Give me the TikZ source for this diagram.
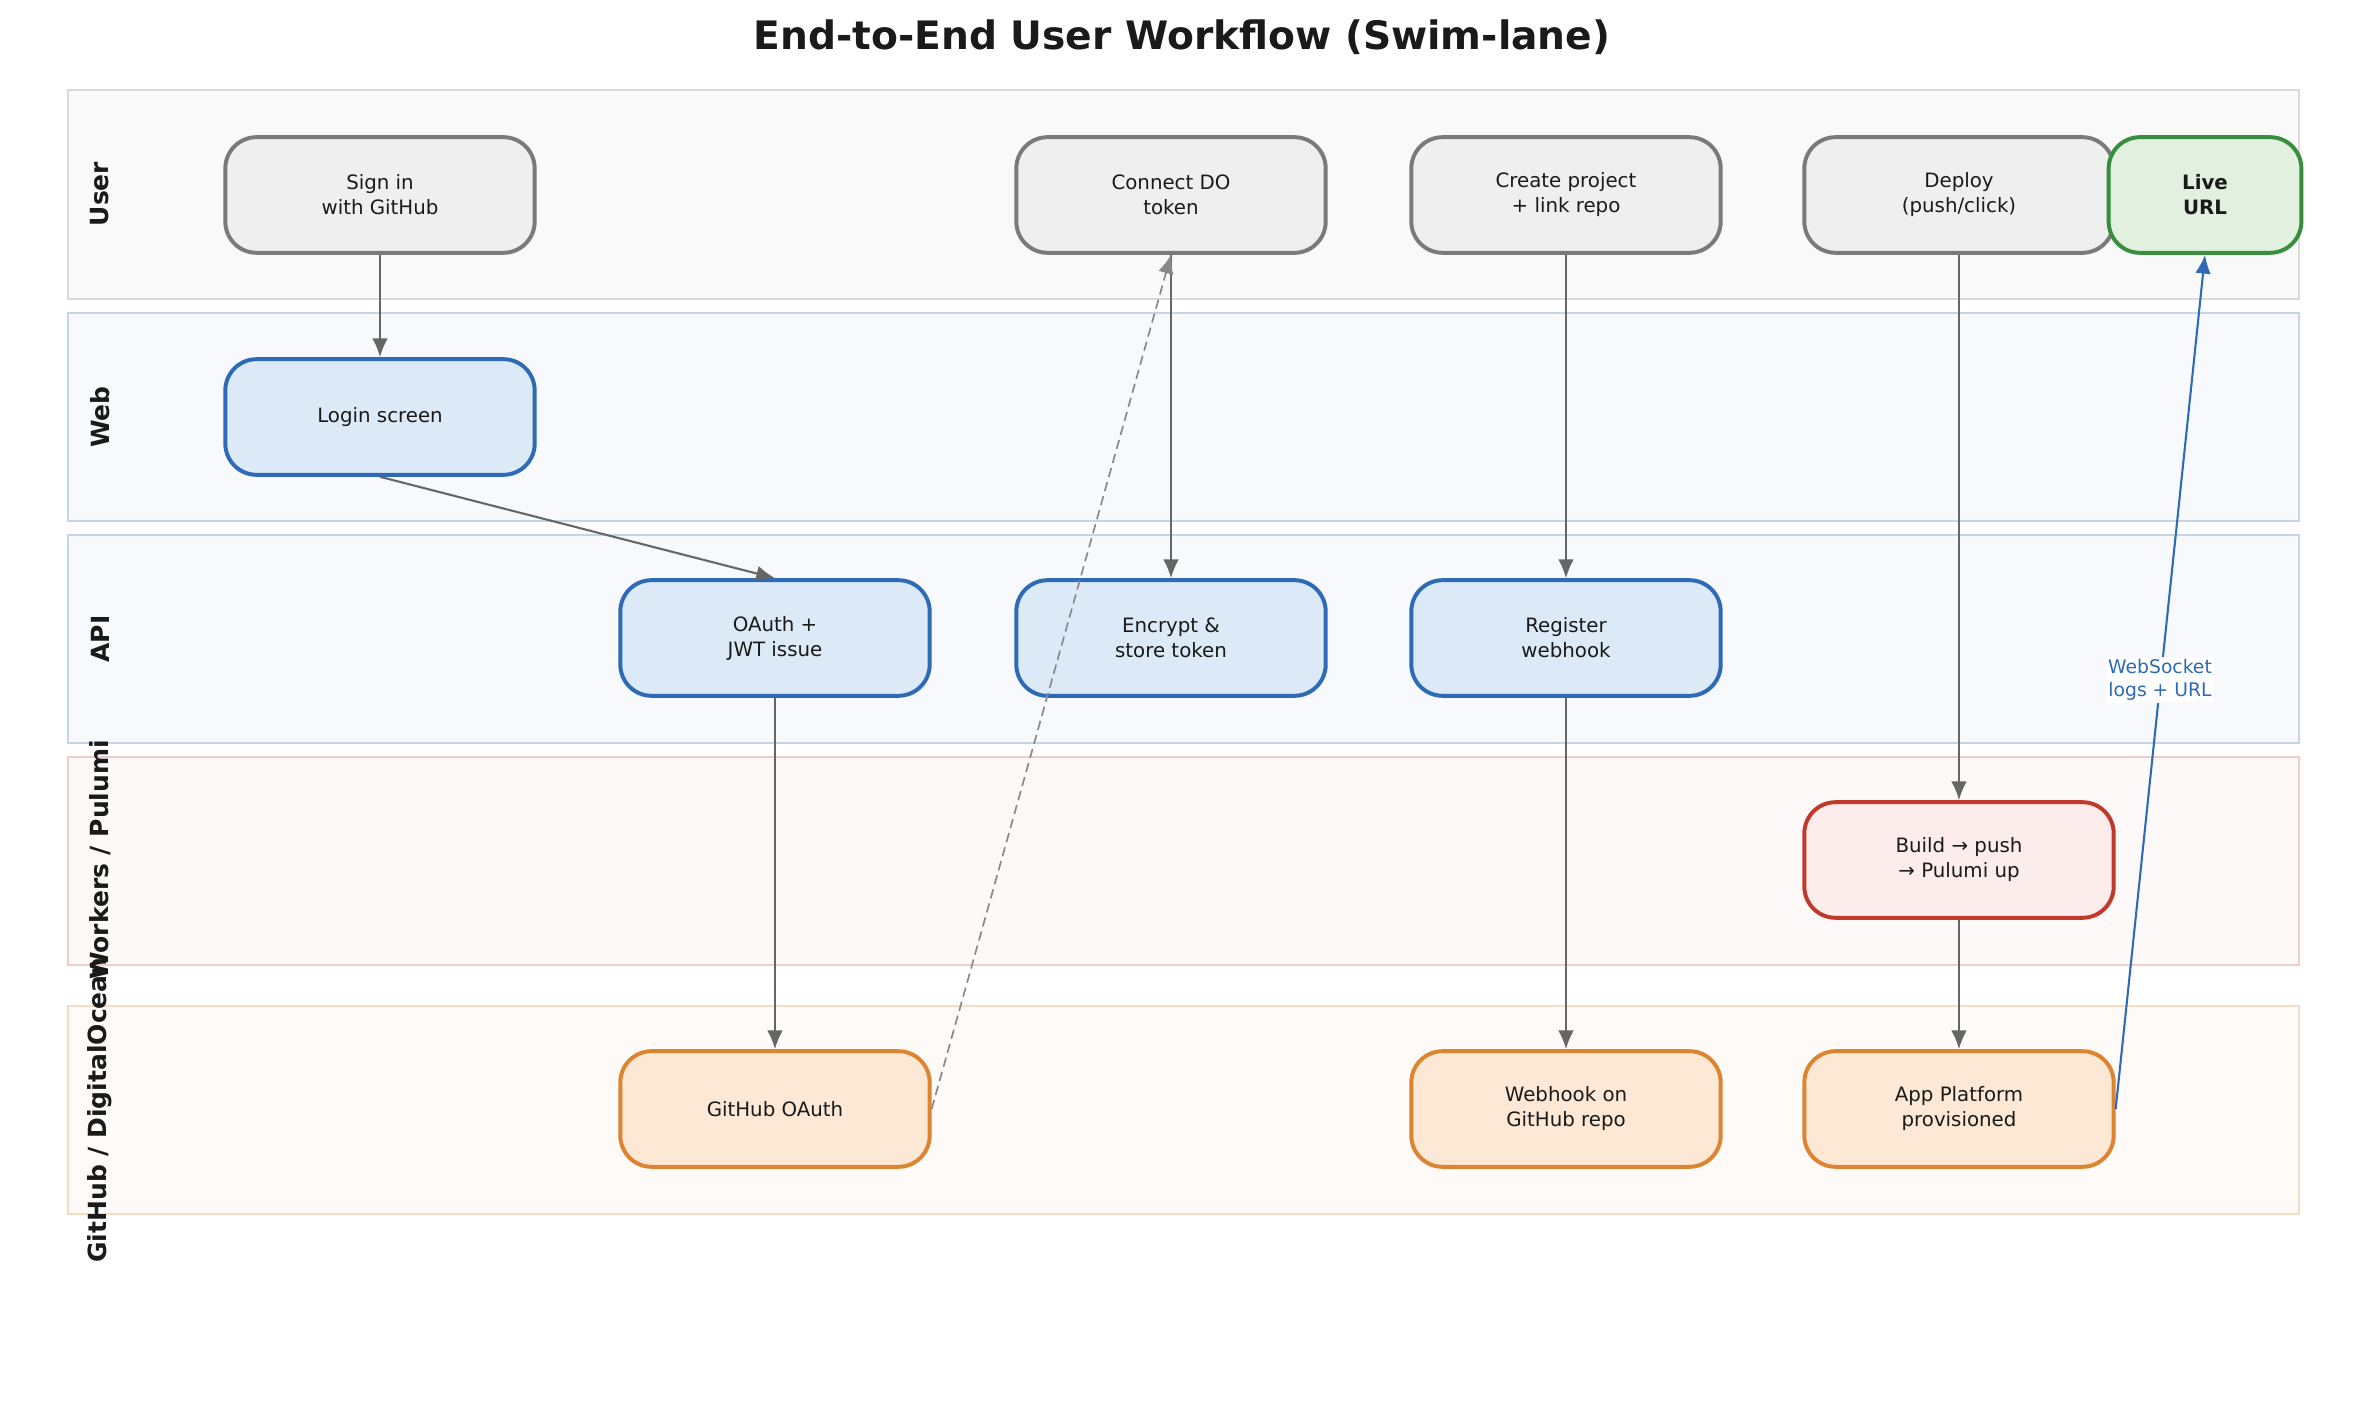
\documentclass[tikz,border=0pt]{standalone}
\usepackage{fontspec}
\setmainfont{DejaVu Sans}
\usetikzlibrary{arrows.meta,positioning}

\definecolor{inkdark}{HTML}{1A1A1A}
\definecolor{usrfill}{HTML}{EFEFEF}
\definecolor{usrline}{HTML}{7A7A7A}
\definecolor{webfill}{HTML}{DCE9F6}
\definecolor{webline}{HTML}{2E6AB5}
\definecolor{wrkfill}{HTML}{FDECEC}
\definecolor{wrkline}{HTML}{C0392B}
\definecolor{extfill}{HTML}{FDE8D6}
\definecolor{extline}{HTML}{DD8430}
\definecolor{livefill}{HTML}{E2F0E0}
\definecolor{liveline}{HTML}{388E3C}
\definecolor{flowgray}{HTML}{666666}
\definecolor{dashgray}{HTML}{888888}

\tikzset{
  lane/.style={line width=1.3pt},
  lanelabel/.style={rotate=90, font=\bfseries\fontsize{12}{14}\selectfont, text=inkdark},
  box/.style={rounded corners=15pt, line width=1.9pt, minimum width=148.5pt,
    minimum height=55.5pt, align=center, text=inkdark,
    font=\fontsize{9.5}{12}\selectfont},
  userbox/.style={box, draw=usrline, fill=usrfill},
  webbox/.style={box, draw=webline, fill=webfill},
  workbox/.style={box, draw=wrkline, fill=wrkfill},
  extbox/.style={box, draw=extline, fill=extfill},
  livebox/.style={box, draw=liveline, fill=livefill, minimum width=92.5pt,
    font=\bfseries\fontsize{9.5}{12}\selectfont},
  flow/.style={draw=flowgray, line width=1pt, -{Latex[length=9pt,width=7.5pt]}},
}

\begin{document}
\begin{tikzpicture}[x=0.48pt, y=-0.48pt]
    \useasboundingbox (0,0) rectangle (2365,1428);

    % Title
    \node[font=\bfseries\fontsize{18.8}{22}\selectfont, text=inkdark] (title) at (1182,37)
      {End-to-End User Workflow (Swim-lane)};

    % Swim lanes
    \draw[lane, draw=black!15, fill=black!2.5] (68,90) rectangle (2299,299);
    \node[lanelabel] (lnuser) at (100,194) {User};
    \draw[lane, draw=webline!28, fill=webline!4] (68,313) rectangle (2299,521);
    \node[lanelabel] (lnweb) at (100,417) {Web};
    \draw[lane, draw=webline!28, fill=webline!4] (68,535) rectangle (2299,743);
    \node[lanelabel] (lnapi) at (100,639) {API};
    \draw[lane, draw=wrkline!25, fill=wrkline!3] (68,757) rectangle (2299,965);
    \node[lanelabel] (lnwork) at (100,860) {Workers / Pulumi};
    \draw[lane, draw=extline!28, fill=extline!4] (68,1006) rectangle (2299,1214);
    \node[lanelabel] (lnext) at (100,1110) {GitHub / DigitalOcean};

    % User steps
    \node[userbox] (signin) at (380,195) {Sign in\\with GitHub};
    \node[userbox] (connect) at (1171,195) {Connect DO\\token};
    \node[userbox] (create) at (1566,195) {Create project\\+ link repo};
    \node[userbox] (deploy) at (1959,195) {Deploy\\(push/click)};
    \node[livebox] (live) at (2205,195) {Live\\URL};

    % Web and API
    \node[webbox] (login) at (380,417) {Login screen};
    \node[webbox] (oauth) at (775,638) {OAuth +\\JWT issue};
    \node[webbox] (encrypt) at (1171,638) {Encrypt \&\\store token};
    \node[webbox] (register) at (1566,638) {Register\\webhook};

    % Workers
    \node[workbox] (build) at (1959,860) {Build → push\\→ Pulumi up};

    % External services
    \node[extbox] (ghoauth) at (775,1109) {GitHub OAuth};
    \node[extbox] (webhook) at (1566,1109) {Webhook on\\GitHub repo};
    \node[extbox] (appplat) at (1959,1109) {App Platform\\provisioned};

    % Flows
    \draw[flow] (signin) -- (login);
    \draw[flow] (login.south) -- (oauth.north);
    \draw[flow] (oauth) -- (ghoauth);
    \draw[flow] (connect) -- (encrypt);
    \draw[flow] (create) -- (register);
    \draw[flow] (register) -- (webhook);
    \draw[flow] (deploy) -- (build);
    \draw[flow] (build) -- (appplat);
    \draw[flow, draw=dashgray, line width=0.8pt, dash pattern=on 4.5pt off 2.5pt]
      (ghoauth.east) -- (connect.south);
    \draw[flow, draw=webline] (appplat.east) -- (live.south);
    \node[fill=white, inner sep=1pt, text=webline, align=center,
      font=\fontsize{9}{11}\selectfont] (wslabel) at (2160,680) {WebSocket\\logs + URL};
\end{tikzpicture}
\end{document}
